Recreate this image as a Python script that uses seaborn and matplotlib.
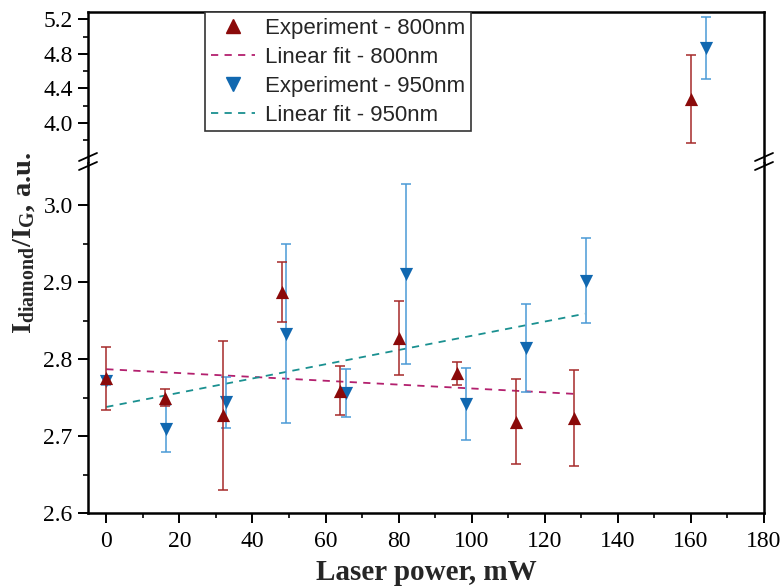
import numpy as np
import pandas as pd
import matplotlib
matplotlib.use("Agg")
import matplotlib.pyplot as plt
import seaborn as sns
from matplotlib.lines import Line2D
from matplotlib.ticker import FixedLocator, MultipleLocator, FormatStrFormatter

# ---------------- data ----------------
power_800 = [0, 16, 32, 48, 64, 80, 96, 112, 128, 160]
ratio_800 = [2.775, 2.750, 2.727, 2.887, 2.759, 2.828, 2.782, 2.719, 2.724, 4.278]
err_800 = [0.041, 0.011, 0.097, 0.039, 0.032, 0.048, 0.015, 0.055, 0.062, 0.51]

power_950 = [0, 16.4, 32.8, 49.2, 65.6, 82, 98.4, 114.8, 131.2, 164]
ratio_950 = [2.772, 2.710, 2.744, 2.833, 2.756, 2.911, 2.742, 2.814, 2.902, 4.866]
err_950 = [0.005, 0.031, 0.033, 0.116, 0.031, 0.117, 0.047, 0.057, 0.055, 0.36]

fit_x_800 = [0, 128]
fit_y_800 = [2.787, 2.755]
fit_x_950 = [0, 131]
fit_y_950 = [2.738, 2.859]

labels = ["Experiment - 800nm", "Linear fit - 800nm",
          "Experiment - 950nm", "Linear fit - 950nm"]

# ---------------- style ----------------
sns.set_theme(style="ticks")
plt.rcParams["font.family"] = ["Liberation Serif", "DejaVu Serif"]
plt.rcParams["mathtext.fontset"] = "custom"
plt.rcParams["mathtext.rm"] = "Liberation Serif:bold"
plt.rcParams["mathtext.bf"] = "Liberation Serif:bold"
plt.rcParams["mathtext.it"] = "Liberation Serif:bold"

RED_M = "#8b0a0a"
RED_E = "#a52a2a"
BLUE_M = "#1168b0"
BLUE_E = "#4a9ad6"
MAG = "#b3206e"
TEAL = "#1a9090"
DASH = (0, (4, 3.5))

W, H = 783, 587
fig = plt.figure(figsize=(W / 100, H / 100), dpi=100)

left, right = 88 / W, 764 / W
top_px, brk_px, bot_px = 11.7, 162.7, 513.3
ax_top = fig.add_axes([left, 1 - brk_px / H, right - left, (brk_px - top_px) / H])
ax_bot = fig.add_axes([left, 1 - bot_px / H, right - left, (bot_px - brk_px) / H])

df800 = pd.DataFrame({"p": power_800, "r": ratio_800})
df950 = pd.DataFrame({"p": power_950, "r": ratio_950})
fit800 = pd.DataFrame({"p": fit_x_800, "r": fit_y_800})
fit950 = pd.DataFrame({"p": fit_x_950, "r": fit_y_950})

for ax in (ax_top, ax_bot):
    sns.lineplot(data=fit800, x="p", y="r", ax=ax, color=MAG, lw=1.3,
                 linestyle=DASH, zorder=2)
    sns.lineplot(data=fit950, x="p", y="r", ax=ax, color=TEAL, lw=1.3,
                 linestyle=DASH, zorder=2)
    ax.errorbar(power_950, ratio_950, yerr=err_950, fmt="none", ecolor=BLUE_E,
                elinewidth=1.1, capsize=3.8, capthick=1.1, zorder=3)
    sns.scatterplot(data=df950, x="p", y="r", ax=ax, marker="v", s=90,
                    color=BLUE_M, edgecolor=BLUE_M, linewidth=0, zorder=4)
    ax.errorbar(power_800, ratio_800, yerr=err_800, fmt="none", ecolor=RED_E,
                elinewidth=1.1, capsize=3.8, capthick=1.1, zorder=5)
    sns.scatterplot(data=df800, x="p", y="r", ax=ax, marker="^", s=90,
                    color=RED_M, edgecolor=RED_M, linewidth=0, zorder=6)
    ax.set_xlim(-5, 180)
    for s in ax.spines.values():
        s.set_linewidth(1.8)
        s.set_color("black")
    ax.tick_params(which="major", direction="out", length=7, width=1.4,
                   labelsize=17, colors="black", right=False, top=False, pad=4)
    ax.tick_params(which="minor", direction="out", length=3.5, width=1.4,
                   right=False, top=False)
    ax.set_xlabel("")
    ax.set_ylabel("")

ax_top.set_ylim(3.54, 5.29)
ax_top.yaxis.set_major_locator(FixedLocator([4.0, 4.4, 4.8, 5.2]))
ax_top.yaxis.set_minor_locator(FixedLocator([3.8, 4.2, 4.6, 5.0]))
ax_top.yaxis.set_major_formatter(FormatStrFormatter("%.1f"))
ax_top.spines["bottom"].set_visible(False)
ax_top.tick_params(axis="x", which="both", bottom=False, labelbottom=False)

ax_bot.set_ylim(2.6, 3.055)
ax_bot.yaxis.set_major_locator(FixedLocator([2.6, 2.7, 2.8, 2.9, 3.0]))
ax_bot.yaxis.set_minor_locator(FixedLocator([2.65, 2.75, 2.85, 2.95]))
ax_bot.yaxis.set_major_formatter(FormatStrFormatter("%.1f"))
ax_bot.spines["top"].set_visible(False)
ax_bot.xaxis.set_major_locator(MultipleLocator(20))
ax_bot.xaxis.set_minor_locator(MultipleLocator(10))
ax_bot.tick_params(axis="x", which="major", pad=6)

ax_bot.set_xlabel("Laser power, mW", fontsize=21, fontweight="bold", labelpad=5)
fig.text(24 / W, 1 - 243 / H, r"$\mathbf{I_{diamond}/I_{G}}$, a.u.",
         rotation=90, ha="center", va="center", fontsize=20.5, fontweight="bold")

# break marks
for xc in (88, 764):
    for yc in (157, 166):
        fig.add_artist(Line2D([(xc - 9) / W, (xc + 9) / W],
                              [1 - (yc + 4) / H, 1 - (yc - 4) / H],
                              color="black", lw=1.3, transform=fig.transFigure))

# legend
handles = [
    Line2D([], [], marker="^", color=RED_M, linestyle="none", markersize=9.5),
    Line2D([], [], color=MAG, lw=1.3, linestyle=DASH),
    Line2D([], [], marker="v", color=BLUE_M, linestyle="none", markersize=9.5),
    Line2D([], [], color=TEAL, lw=1.3, linestyle=DASH),
]
leg = ax_top.legend(handles, labels, loc="upper left",
                    bbox_to_anchor=(205 / W, 1 - 12 / H),
                    bbox_transform=fig.transFigure,
                    prop={"family": "Liberation Sans", "size": 16},
                    frameon=True, fancybox=False, shadow=False,
                    handlelength=2.0, handletextpad=0.45, labelspacing=0.36,
                    borderpad=0.25, borderaxespad=0)
leg.get_frame().set_edgecolor("#333333")
leg.get_frame().set_linewidth(1.2)
leg.get_frame().set_alpha(1)

fig.savefig("out.png", dpi=100)
